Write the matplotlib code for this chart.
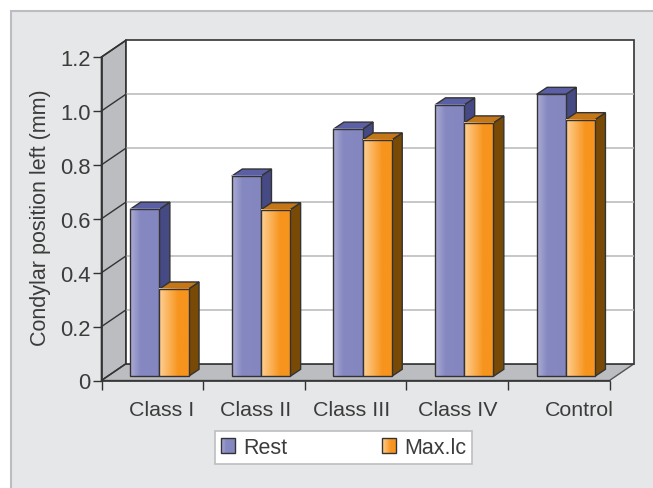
import numpy as np
import matplotlib
matplotlib.use('Agg')
import matplotlib.pyplot as plt
from matplotlib.colors import LinearSegmentedColormap
from matplotlib.legend_handler import HandlerBase
from matplotlib.patches import Patch, Polygon, Rectangle

plt.rcParams['font.family'] = ['Liberation Sans', 'DejaVu Sans']

# ============================================================
# DATA
# ============================================================

classes = ['Class I', 'Class II', 'Class III', 'Class IV', 'Control']
rest = [0.62, 0.743, 0.917, 1.007, 1.046]
max_lc = [0.324, 0.618, 0.877, 0.94, 0.952]
y_ticks = [0, 0.2, 0.4, 0.6, 0.8, 1.0, 1.2]
y_tick_labels = ['0', '0.2', '0.4', '0.6', '0.8', '1.0', '1.2']

# ============================================================
# STYLE
# ============================================================

panel_color = '#E6E7E8'
wall_color = '#BCBDC0'
grid_color = '#BCBDC0'
edge_color = '#333333'
text_color = '#3C3C3C'

rest_ramp = LinearSegmentedColormap.from_list(
    'rest', [(0, '#ABACD4'), (0.35, '#8588C1'), (1, '#8487BF')])
max_ramp = LinearSegmentedColormap.from_list(
    'maxlc', [(0, '#FFD094'), (0.65, '#F7941D'), (1, '#F7941D')])
rest_top, rest_side = '#5B5FA6', '#454A85'
max_top, max_side = '#C47718', '#794A05'

W, H = 653, 489
ax_left, ax_right, ax_top, ax_bottom = 101.5, 609.5, 58, 381.5

# depth of the box and of the bars, in data units
wall_dx, wall_dy = 0.241, 0.062
base_dx, base_dy = 0.07, 0.0155
bar_dx, bar_dy = 0.103, 0.026
bar_w = 0.287

# horizontal nudges of the category names, in data units
label_shift = [0.093, 0.02, -0.035, 0.01, 0.2]

# ============================================================
# FIGURE
# ============================================================

fig = plt.figure(figsize=(W / 100, H / 100), dpi=100, facecolor='white')
fig.add_artist(Rectangle((10.5 / W, -0.05), 1.0, (H - 12) / H + 0.05,
                         transform=fig.transFigure, facecolor=panel_color,
                         edgecolor=wall_color, linewidth=1.5, zorder=-1))

ax = fig.add_axes([ax_left / W, (H - ax_bottom) / H,
                   (ax_right - ax_left) / W, (ax_bottom - ax_top) / H])
ax.patch.set_visible(False)
ax.set_xlim(0, 5)
ax.set_ylim(0, 1.2)


def poly(points, face, z, edge=edge_color, lw=1.0):
    ax.add_patch(Polygon(points, closed=True, facecolor=face, edgecolor=edge,
                         linewidth=lw, zorder=z, clip_on=False,
                         joinstyle='miter'))


# --- Box : side wall, floor, back wall ---
poly([(0, 0), (wall_dx, wall_dy), (wall_dx, 1.2 + wall_dy), (0, 1.2)],
     wall_color, 1, lw=1.2)
poly([(0, 0), (wall_dx, wall_dy), (5 + wall_dx, wall_dy), (5, 0)],
     wall_color, 1, edge='#555555', lw=1.0)
poly([(wall_dx, wall_dy), (5 + wall_dx, wall_dy),
      (5 + wall_dx, 1.2 + wall_dy), (wall_dx, 1.2 + wall_dy)],
     'white', 1.5, lw=1.2)

for t in y_ticks[1:-1]:
    ax.plot([wall_dx, 5 + wall_dx], [t + wall_dy, t + wall_dy], color=grid_color,
            linewidth=1.2, zorder=2, clip_on=False, solid_capstyle='butt')
for t in y_ticks[:-1]:
    ax.plot([0, wall_dx], [t, t + wall_dy], color=edge_color, linewidth=1.0,
            zorder=2.5, clip_on=False)
ax.plot([0, wall_dx], [1.2, 1.2 + wall_dy], color=edge_color, linewidth=1.0,
        zorder=2.5, clip_on=False)


# --- Bars ---
def bar3d(x0, value, ramp, top, side, z):
    x1 = x0 + bar_w
    y0 = base_dy
    y1 = base_dy + value
    poly([(x1, y0), (x1 + bar_dx, y0 + bar_dy), (x1 + bar_dx, y1 + bar_dy), (x1, y1)],
         side, z)
    poly([(x0, y1), (x0 + bar_dx, y1 + bar_dy), (x1 + bar_dx, y1 + bar_dy), (x1, y1)],
         top, z)
    ax.imshow(np.linspace(0, 1, 64).reshape(1, -1), cmap=ramp, vmin=0, vmax=1,
              extent=(x0, x1, y0, y1), aspect='auto', zorder=z + 0.1,
              interpolation='bilinear', clip_on=False)
    ax.add_patch(Rectangle((x0, y0), bar_w, value, facecolor='none',
                           edgecolor=edge_color, linewidth=1.0, zorder=z + 0.2,
                           clip_on=False))


z = 3
for i in range(len(classes)):
    start = i + 0.5 + base_dx - bar_w
    bar3d(start, rest[i], rest_ramp, rest_top, rest_side, z)
    bar3d(start + bar_w, max_lc[i], max_ramp, max_top, max_side, z + 1)
    z += 2

ax.set_xlim(0, 5)
ax.set_ylim(0, 1.2)

# --- Axes ---
for name in ['top', 'right']:
    ax.spines[name].set_visible(False)
for name in ['left', 'bottom']:
    ax.spines[name].set_color(edge_color)
    ax.spines[name].set_linewidth(1.2)
    ax.spines[name].set_zorder(30)

ax.set_yticks(y_ticks)
ax.set_yticklabels(y_tick_labels)
ax.set_xticks(range(len(classes) + 1))
ax.set_xticklabels([])
ax.tick_params(axis='y', length=6.5, width=1.0, color=edge_color, pad=1.5,
               labelsize=15.8, labelcolor=text_color)
ax.tick_params(axis='x', length=6.5, width=1.0, color=edge_color)

for i, name in enumerate(classes):
    ax.annotate(name, xy=(i + 0.5 + label_shift[i], 0), xycoords=('data', 'axes fraction'),
                xytext=(0, -14), textcoords='offset points', ha='center', va='top',
                fontsize=15.4, color=text_color, annotation_clip=False)

ax.set_ylabel('Condylar position left (mm)', fontsize=15.5, color=text_color)
ax.yaxis.set_label_coords((51 - ax_left) / (ax_right - ax_left),
                          (ax_bottom - 218) / (ax_bottom - ax_top))


# --- Legend ---
class RampHandler(HandlerBase):
    def __init__(self, ramp):
        super().__init__()
        self.ramp = ramp

    def create_artists(self, legend, orig_handle, xdescent, ydescent, width, height,
                       fontsize, trans):
        strips = []
        n = 24
        for k in range(n):
            strips.append(Rectangle((-xdescent + width * k / n, -ydescent), width / n + 0.2,
                                    height, facecolor=self.ramp((k + 0.5) / n),
                                    edgecolor='none', transform=trans))
        strips.append(Rectangle((-xdescent, -ydescent), width, height, facecolor='none',
                                edgecolor=edge_color, linewidth=1.0, transform=trans))
        return strips


rest_handle = Patch(label='Rest')
max_handle = Patch(label='Max.lc')
leg = ax.legend(handles=[rest_handle, max_handle], ncols=2, loc='center',
                bbox_to_anchor=(343.5 / W, (H - 448.5) / H),
                bbox_transform=fig.transFigure, fontsize=15.5, frameon=True,
                fancybox=False, framealpha=1, facecolor='white', edgecolor=wall_color,
                handlelength=0.65, handleheight=0.65, handletextpad=0.37,
                columnspacing=4.4, borderpad=0.28, borderaxespad=0,
                handler_map={rest_handle: RampHandler(rest_ramp),
                             max_handle: RampHandler(max_ramp)})
leg.get_frame().set_linewidth(1.2)
leg.set_zorder(40)
for t in leg.get_texts():
    t.set_color(text_color)

fig.savefig('out.png', dpi=100, facecolor=fig.get_facecolor())
